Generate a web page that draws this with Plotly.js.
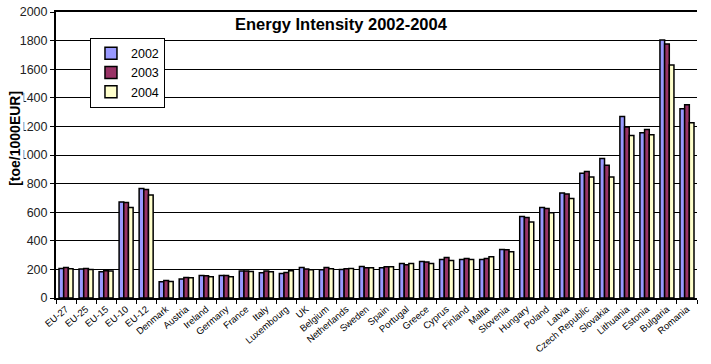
<!DOCTYPE html>
<html>
<head>
<meta charset="utf-8">
<script src="https://cdn.plot.ly/plotly-3.0.1.min.js"></script>
<style>html,body{margin:0;padding:0;background:#fff;}#chart{width:711px;height:364px;}</style>
</head>
<body>
<div id="chart"></div>
<script>
const categories = ["EU-27","EU-25","EU-15","EU-10","EU-12","Denmark","Austria","Ireland","Germany","France","Italy","Luxembourg","UK","Belgium","Netherlands","Sweden","Spain","Portugal","Greece","Cyprus","Finland","Malta","Slovenia","Hungary","Poland","Latvia","Czech Republic","Slovakia","Lithuania","Estonia","Bulgaria","Romania"];
const v2002 = [207,202,184,672,765,114,133,158,158,189,177,172,214,197,200,221,212,242,256,270,270,270,340,570,633,735,872,975,1270,1156,1805,1324];
const v2003 = [214,207,190,668,758,123,144,155,158,189,188,179,202,214,205,212,219,233,252,284,277,277,338,563,626,728,884,928,1196,1179,1777,1352];
const v2004 = [205,200,188,633,721,116,142,149,149,186,183,190,198,205,206,212,219,242,242,263,270,288,323,532,596,696,847,847,1137,1142,1630,1226];
const seriesNames = ["2002","2003","2004"];
const seriesColors = ["#9999FF","#993366","#FFFFCC"];
const seriesValues = [v2002, v2003, v2004];

const traces = seriesValues.map((vals, i) => ({
  type: "bar",
  name: seriesNames[i],
  x: categories,
  y: vals,
  marker: {color: seriesColors[i], line: {color: "#000", width: 1.5}}
}));

const font = "Liberation Sans, Arial, sans-serif";
const layout = {
  width: 711, height: 364,
  margin: {l: 56, r: 14, t: 12, b: 66, pad: 0},
  paper_bgcolor: "#fff", plot_bgcolor: "#fff",
  barmode: "group", bargap: 0.3, bargroupgap: 0,
  showlegend: true,
  legend: {x: 0.053, y: 0.91, xanchor: "left", yanchor: "top", bgcolor: "#fff",
           bordercolor: "#000", borderwidth: 1, font: {family: font, size: 12.5, color: "#000"},
           tracegroupgap: 0, itemwidth: 30},
  font: {family: font, color: "#000"},
  xaxis: {type: "category", showline: true, linecolor: "#000", linewidth: 2, mirror: true,
          ticks: "outside", tickson: "boundaries", ticklen: 4, tickcolor: "#000",
          tickangle: -40, tickfont: {family: font, size: 9.5, color: "#000"},
          showgrid: false, zeroline: false, fixedrange: true},
  yaxis: {range: [0, 2000], dtick: 200, showline: true, linecolor: "#000", linewidth: 2,
          ticks: "outside", ticklen: 4, tickcolor: "#000",
          tickfont: {family: font, size: 12.5, color: "#222"},
          showgrid: true, gridcolor: "#000", gridwidth: 1, zeroline: false, fixedrange: true},
  annotations: [
    {text: "<b>Energy Intensity 2002-2004</b>", xref: "paper", yref: "paper", x: 0.445, y: 0.998,
     xanchor: "center", yanchor: "top", showarrow: false, font: {family: font, size: 16.5, color: "#000"}},
    {text: "<b>[toe/1000EUR]</b>", xref: "paper", yref: "paper", x: -0.064, y: 0.56,
     xanchor: "center", yanchor: "middle", textangle: -90, showarrow: false, bgcolor: "#fff",
     borderpad: 0, font: {family: font, size: 14, color: "#000"}}
  ]
};
Plotly.newPlot("chart", traces, layout, {displayModeBar: false, staticPlot: true});
</script>
</body>
</html>
